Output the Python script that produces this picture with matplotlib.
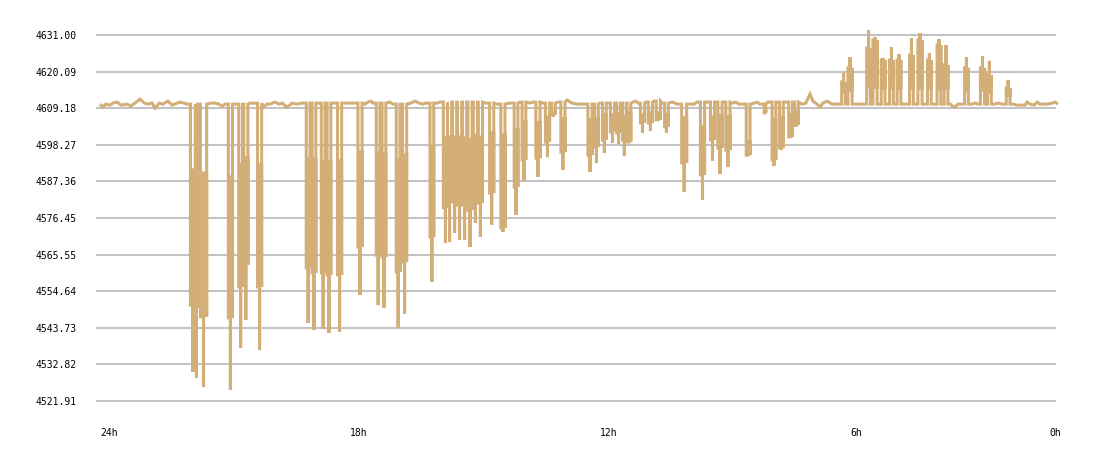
import matplotlib
matplotlib.use("Agg")
from matplotlib import pyplot as plt

# price level ticks
y_ticks = [4521.91, 4532.82, 4543.73, 4554.64, 4565.55, 4576.45,
           4587.36, 4598.27, 4609.18, 4620.09, 4631.00]
y_labels = ["%.2f" % v for v in y_ticks]

# hours-ago ticks (last label sits just inside the right edge)
x_ticks = [24, 18, 12, 6, 1.22]
x_labels = ["24h", "18h", "12h", "6h", "0h"]

# quiet stretches between the dips
base_hours = [24.00, 23.93, 23.86, 23.76, 23.69, 23.59, 23.50, 23.35, 23.26, 23.16,
              23.04, 22.94, 22.85, 22.75, 22.68, 22.58, 22.49, 22.37, 22.27, 22.15,
              22.08, 21.98, 21.91,
              21.34, 21.24, 21.14, 21.07, 21.00,
              20.40, 20.33,
              20.09, 19.99, 19.92, 19.80, 19.70, 19.63, 19.51, 19.39, 19.27, 19.15,
              18.12, 18.00, 17.90,
              17.64, 17.57, 17.50, 17.45,
              17.04, 16.97,
              16.54, 16.44, 16.34, 16.25, 16.18,
              15.91, 15.84,
              14.74, 14.47, 14.18, 13.92, 13.68, 13.61, 13.37, 13.01,
              12.79, 12.67, 12.53, 12.46, 12.38,
              12.00, 11.81, 11.21, 11.14, 11.09, 10.90, 10.70, 10.51,
              10.27, 10.20, 10.13, 9.84, 9.74, 9.67, 9.43,
              8.81, 8.74, 8.66, 8.59, 8.30, 8.23, 8.16, 7.97, 7.54,
              7.15, 7.06, 6.96, 6.89, 6.79, 6.72, 6.65, 6.55, 6.43, 6.34, 6.26,
              5.86, 5.76, 5.66, 5.11, 4.68, 4.44, 4.20, 3.98,
              3.60, 3.53, 3.48, 3.41, 3.34, 3.07, 3.00, 2.93, 2.52, 2.45, 2.35,
              2.09, 1.99, 1.90, 1.80, 1.75, 1.68, 1.58, 1.51, 1.44, 1.34, 1.25,
              1.15, 1.08, 1.01]
base_values = [4610.4, 4609.5, 4610.4, 4610.1, 4610.7, 4611.0, 4610.1, 4610.4, 4609.8, 4610.7,
               4611.9, 4610.7, 4610.4, 4610.7, 4609.2, 4610.7, 4610.4, 4611.3, 4610.1, 4610.7,
               4611.0, 4610.7, 4610.4,
               4610.7, 4610.7, 4610.4, 4609.8, 4610.4,
               4610.7, 4610.7,
               4609.5, 4610.4, 4610.4, 4611.0, 4610.4, 4610.7, 4609.5, 4610.7, 4610.4, 4610.7,
               4610.7, 4610.7, 4610.7,
               4610.4, 4611.0, 4611.3, 4610.7,
               4611.0, 4610.4,
               4610.7, 4611.3, 4610.7, 4610.4, 4610.7,
               4610.7, 4611.0,
               4610.7, 4610.4, 4610.7, 4611.0, 4610.7, 4611.0, 4610.7, 4611.0,
               4611.6, 4610.7, 4610.4, 4610.4, 4610.4,
               4610.7, 4610.7, 4611.0, 4611.3, 4610.7, 4611.0, 4611.3, 4610.7,
               4611.0, 4610.7, 4610.4, 4610.4, 4610.4, 4611.0, 4611.0,
               4610.7, 4611.0, 4610.4, 4610.4, 4610.7, 4611.0, 4610.4, 4611.0, 4611.0,
               4610.4, 4610.7, 4613.4, 4611.3, 4610.4, 4609.5, 4610.7, 4611.3, 4610.4, 4610.4, 4610.4,
               4610.4, 4610.4, 4610.4, 4610.4, 4610.4, 4610.4, 4610.4, 4610.4,
               4610.4, 4609.8, 4609.5, 4610.4, 4610.4, 4610.4, 4610.7, 4610.4, 4610.4, 4610.7, 4610.4,
               4610.4, 4610.1, 4610.1, 4610.1, 4611.0, 4610.4, 4610.1, 4611.0, 4610.4, 4610.4, 4610.4,
               4610.7, 4611.0, 4610.4]

# excursions: start/end (hours ago), level where the band starts,
# far end of the thick band, and the extreme tip
dip_start = [21.83, 21.71, 21.59, 20.92, 20.67, 20.55, 20.22, 19.05, 18.91, 18.69,
             18.55, 18.30, 17.81, 17.37, 17.23, 16.89, 16.74, 16.08, 15.76, 15.66,
             15.54, 15.42, 15.30, 15.17, 15.04, 14.92, 14.65, 14.38, 14.06, 13.87,
             13.54, 13.31, 13.16, 12.94, 12.29, 12.13, 11.94, 11.75, 11.60, 11.46,
             11.35, 11.03, 10.84, 10.65, 10.45, 10.04, 9.59, 9.35, 9.17, 8.98,
             8.49, 8.06, 7.87, 7.69, 7.47, 7.33, 6.20, 6.05, 5.60, 5.45,
             5.25, 5.05, 4.87, 4.57, 4.37, 4.14, 3.91, 3.74, 3.25, 2.87,
             2.70, 2.25]
dip_end = [21.71, 21.66, 21.44, 20.82, 20.58, 20.45, 20.12, 18.96, 18.82, 18.60,
           18.46, 18.20, 17.71, 17.28, 17.14, 16.80, 16.64, 15.99, 15.66, 15.56,
           15.44, 15.32, 15.20, 15.07, 14.94, 14.82, 14.55, 14.28, 13.97, 13.78,
           13.44, 13.21, 13.07, 12.84, 12.19, 12.04, 11.85, 11.65, 11.51, 11.37,
           11.26, 10.93, 10.74, 10.55, 10.36, 9.92, 9.49, 9.25, 9.07, 8.88,
           8.40, 8.02, 7.78, 7.60, 7.38, 7.24, 6.11, 5.95, 5.51, 5.35,
           5.16, 4.96, 4.78, 4.48, 4.27, 4.05, 3.82, 3.65, 3.16, 2.77,
           2.61, 2.16]
dip_edge = [4590.8, 4590.2, 4589.9, 4588.7, 4592.3, 4594.3, 4592.3, 4594.0, 4594.0, 4593.2,
            4593.2, 4593.5, 4596.1, 4595.8, 4595.5, 4593.8, 4595.2, 4597.6, 4600.3, 4600.6,
            4600.6, 4600.6, 4600.3, 4599.7, 4601.2, 4600.6, 4601.8, 4601.2, 4602.7, 4605.1,
            4604.8, 4606.6, 4607.8, 4606.0, 4605.7, 4606.0, 4607.2, 4607.2, 4607.5, 4606.6,
            4607.8, 4607.2, 4607.8, 4607.8, 4607.2, 4606.3, 4603.6, 4606.6, 4606.9, 4606.6,
            4599.1, 4608.1, 4605.7, 4606.3, 4607.2, 4608.1, 4614.0, 4614.6, 4615.5, 4615.5,
            4615.2, 4615.2, 4615.2, 4615.2, 4615.2, 4615.2, 4615.2, 4615.2, 4614.6, 4614.6,
            4614.0, 4613.1]
dip_band = [4550.5, 4549.7, 4547.0, 4546.7, 4555.9, 4562.5, 4555.9, 4561.6, 4560.1, 4560.1,
            4559.5, 4559.5, 4567.8, 4565.4, 4564.8, 4560.4, 4563.4, 4570.8, 4579.5, 4580.9,
            4581.8, 4580.3, 4580.3, 4578.8, 4583.9, 4580.9, 4583.9, 4573.5, 4585.7, 4593.8,
            4594.3, 4599.1, 4607.2, 4596.1, 4595.2, 4597.6, 4599.7, 4602.1, 4601.8, 4599.7,
            4599.1, 4604.8, 4604.8, 4605.7, 4603.6, 4592.9, 4589.3, 4599.7, 4597.3, 4596.7,
            4595.2, 4607.8, 4593.8, 4597.3, 4600.6, 4604.2, 4617.0, 4621.2, 4627.1, 4629.5,
            4623.5, 4623.5, 4623.5, 4625.0, 4629.5, 4623.5, 4628.0, 4622.1, 4621.2, 4621.2,
            4619.1, 4615.2]
dip_peak = [4530.6, 4528.8, 4526.1, 4525.2, 4537.7, 4546.1, 4537.1, 4545.2, 4543.1, 4543.4,
            4542.2, 4542.5, 4553.5, 4550.5, 4549.7, 4543.7, 4547.9, 4557.4, 4569.0, 4569.3,
            4572.0, 4569.9, 4569.9, 4567.8, 4575.0, 4570.8, 4574.4, 4572.3, 4577.4, 4587.5,
            4588.7, 4594.6, 4606.6, 4590.8, 4590.2, 4592.9, 4595.8, 4598.8, 4598.5, 4594.9,
            4599.1, 4601.8, 4602.4, 4605.4, 4601.8, 4584.2, 4581.8, 4593.5, 4589.6, 4591.7,
            4594.9, 4607.8, 4592.0, 4596.7, 4600.3, 4603.6, 4619.7, 4624.4, 4632.5, 4630.4,
            4624.1, 4627.4, 4625.3, 4630.1, 4631.6, 4625.6, 4629.8, 4628.0, 4624.4, 4624.7,
            4623.3, 4617.6]

line_color = "#d3af77"
grid_color = "#c3c3c3"

# merge quiet stretches and excursions in time order
events = [(h, "b", i) for i, h in enumerate(base_hours)]
events += [(h, "d", i) for i, h in enumerate(dip_start)]
events.sort(key=lambda e: -e[0])

xs, ys = [], []
last = base_values[0]
for h, kind, i in events:
    if kind == "b":
        xs.append(h)
        ys.append(base_values[i])
        last = base_values[i]
    else:
        s, e = dip_start[i], dip_end[i]
        m = (s + e) / 2
        a, b, c = dip_edge[i], dip_band[i], dip_peak[i]
        xs += [s, s, m, m, m, e, e, e]
        ys += [last, b, b, c, a, a, b, last]

fig = plt.figure(figsize=(11, 4.58), dpi=100)
ax = fig.add_axes([96 / 1100, 48 / 458, 960 / 1100, 390 / 458])

ax.plot(xs, ys, color=line_color, lw=2.2, clip_on=False, zorder=3,
        solid_joinstyle="miter", solid_capstyle="butt")

ax.set_xlim(24.096, 1.056)
ax.set_ylim(4519.23, 4635.47)

ax.set_yticks(y_ticks)
ax.set_yticklabels(y_labels, fontsize=7, family="DejaVu Sans Mono")
ax.set_xticks(x_ticks)
ax.set_xticklabels(x_labels, fontsize=7, family="DejaVu Sans Mono", ha="left")
ax.tick_params(axis="y", length=0, pad=14)
ax.tick_params(axis="x", length=0, pad=13)

ax.grid(axis="y", color=grid_color, lw=1.5)
ax.grid(axis="x", visible=False)
ax.set_axisbelow(True)
for sp in ax.spines.values():
    sp.set_visible(False)

fig.savefig("out.png", dpi=100, facecolor="white")
